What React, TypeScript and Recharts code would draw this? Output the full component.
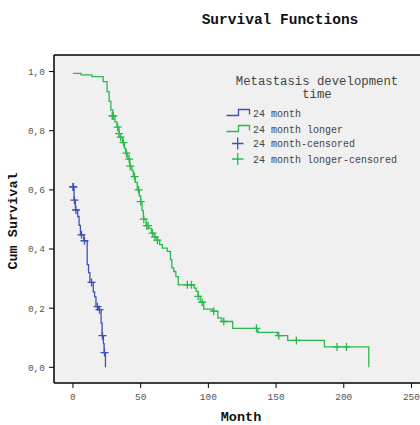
import React from "react";
import {
  ComposedChart,
  CartesianGrid,
  Customized,
  Line,
  ReferenceLine,
  Scatter,
  XAxis,
  YAxis
} from "recharts";

const legendTitle = ["Metastasis development", "time"];
const legendLabels = ["24 month", "24 month longer", "24 month-censored", "24 month longer-censored"];
const xTicks = [0, 50, 100, 150, 200, 250];
const yTicks = [0, 0.2, 0.4, 0.6, 0.8, 1.0];

// 24 month group: step points (time, cumulative survival)
const shortTimes = [0, 0.8, 1.8, 3.5, 4.5, 5.5, 8, 10.5, 11.5, 12.5, 15, 16, 17, 19, 20.8, 21.5, 22.5, 23, 24];
const shortSurvival = [0.61, 0.565, 0.532, 0.51, 0.48, 0.448, 0.428, 0.347, 0.32, 0.287, 0.255, 0.238, 0.205, 0.195, 0.15, 0.107, 0.08, 0.05, 0];
const shortCensorTimes = [0, 0.4, 1.1, 2.2, 6.3, 8.5, 13.7, 18.1, 19.6, 21.8, 23.3];
const shortCensorSurvival = [0.61, 0.61, 0.565, 0.532, 0.448, 0.428, 0.287, 0.205, 0.195, 0.107, 0.05];

// 24 month longer group
const longTimes = [
  0, 6, 14, 22.3, 25.2, 26.7, 28, 29.5, 31, 32.5, 34, 35, 36.5, 38, 39, 40.5, 42, 43.5, 44.5, 46, 47.5,
  49, 50, 51, 52, 54, 56, 58, 60, 62, 64, 66, 69.6, 72, 73, 74.4, 76, 77.8, 89.5, 91, 92.5, 94, 96.6,
  103, 107, 110, 118, 136.5, 151, 158.6, 185.7, 218.5
];
const longSurvival = [
  0.994, 0.989, 0.983, 0.966, 0.932, 0.899, 0.87, 0.85, 0.83, 0.812, 0.79, 0.778, 0.76, 0.74, 0.724,
  0.704, 0.68, 0.665, 0.645, 0.625, 0.6, 0.58, 0.56, 0.53, 0.501, 0.479, 0.47, 0.454, 0.44, 0.43, 0.415,
  0.403, 0.392, 0.364, 0.336, 0.324, 0.307, 0.279, 0.268, 0.257, 0.24, 0.22, 0.197, 0.19, 0.167, 0.155,
  0.132, 0.118, 0.107, 0.091, 0.069, 0
];
const longCensorTimes = [
  29, 29.8, 33, 34, 35.2, 37.3, 39.5, 41.5, 42.3, 45.5, 48.5, 50, 52.3, 54.5, 55.5, 58.7, 60.5, 62.4,
  84.5, 87.5, 92.5, 95.4, 104, 111.4, 135.5, 152, 165, 195, 202
];
const longCensorSurvival = [
  0.85, 0.85, 0.812, 0.79, 0.778, 0.76, 0.724, 0.704, 0.68, 0.645, 0.6, 0.56, 0.501, 0.479, 0.479, 0.454,
  0.44, 0.43, 0.279, 0.279, 0.24, 0.22, 0.19, 0.155, 0.132, 0.107, 0.091, 0.069, 0.069
];

const BLUE = "#3b52b0";
const GREEN = "#2cb84c";
const FONT = "'Liberation Mono', 'DejaVu Sans Mono', monospace";

const toRows = (times: number[], surv: number[]) => times.map((t, i) => ({ t, s: surv[i] }));

const shortRows = toRows(shortTimes, shortSurvival);
const longRows = toRows(longTimes, longSurvival);
const shortCensored = toRows(shortCensorTimes, shortCensorSurvival);
const longCensored = toRows(longCensorTimes, longCensorSurvival);

const X_DOMAIN: [number, number] = [-14, 256.3];
const Y_DOMAIN: [number, number] = [-0.053, 1.056];

function crossShape(color: string, half: number) {
  return (props: any) => {
    const { cx, cy } = props;
    return (
      <path
        d={`M${cx - half},${cy}H${cx + half}M${cx},${cy - half}V${cy + half}`}
        stroke={color}
        strokeWidth={1.3}
        fill="none"
      />
    );
  };
}

function Labels() {
  return (
    <g fontFamily={FONT}>
      <text x={280} y={24} textAnchor="middle" fontSize={14.5} fontWeight="bold" fill="#111">
        Survival Functions
      </text>
      <text x={241} y={421} textAnchor="middle" fontSize={13.5} fontWeight="bold" fill="#111">
        Month
      </text>
      <text
        transform="translate(17,221) rotate(-90)"
        textAnchor="middle"
        fontSize={13.5}
        fontWeight="bold"
        fill="#111"
      >
        Cum Survival
      </text>
      <text x={317} y={85} textAnchor="middle" fontSize={12.3} fill="#444">
        {legendTitle[0]}
      </text>
      <text x={317} y={98} textAnchor="middle" fontSize={12.3} fill="#444">
        {legendTitle[1]}
      </text>
      {legendLabels.map((label, i) => {
        const y = [113, 129, 143.5, 159][i];
        const color = i % 2 === 0 ? BLUE : GREEN;
        return (
          <g key={label}>
            {i < 2 ? (
              <path
                d={`M226.5,${y + 2.5}H238.5V${y - 3.5}H249.5V${y + 1.5}`}
                stroke={color}
                strokeWidth={1.3}
                fill="none"
              />
            ) : (
              <path
                d={`M232,${y}H243.5M237.7,${y - 6}V${y + 6}`}
                stroke={color}
                strokeWidth={1.3}
                fill="none"
              />
            )}
            <text x={253} y={y + 3.5} fontSize={10} fill="#444">
              {label}
            </text>
          </g>
        );
      })}
    </g>
  );
}

export default function App() {
  return (
    <div style={{ position: "absolute", left: 0, top: 0, width: 420, height: 425, background: "#fff" }}>
      <ComposedChart width={420} height={425} margin={{ top: 55, right: 0, bottom: 0, left: 0 }}>
        <CartesianGrid fill="#f0f0f0" horizontal={false} vertical={false} />
        <XAxis
          type="number"
          dataKey="t"
          domain={X_DOMAIN}
          ticks={xTicks}
          allowDataOverflow
          height={42}
          axisLine={{ stroke: "#000", strokeWidth: 1.5 }}
          tickLine={{ stroke: "#000" }}
          tickSize={5}
          tickMargin={5}
          tick={{ fontSize: 9.5, fill: "#555", fontFamily: FONT }}
        />
        <YAxis
          type="number"
          dataKey="s"
          domain={Y_DOMAIN}
          ticks={yTicks}
          allowDataOverflow
          width={54}
          axisLine={{ stroke: "#000", strokeWidth: 1.5 }}
          tickLine={{ stroke: "#000" }}
          tickSize={5}
          tickMargin={4}
          tickFormatter={(v: number) => v.toFixed(1).replace(".", ",")}
          tick={{ fontSize: 9.5, fill: "#555", fontFamily: FONT }}
        />
        <ReferenceLine y={Y_DOMAIN[1]} stroke="#000" strokeWidth={1.5} ifOverflow="visible" />
        <Line
          data={shortRows}
          dataKey="s"
          type="stepAfter"
          stroke={BLUE}
          strokeWidth={1.3}
          dot={false}
          isAnimationActive={false}
        />
        <Line
          data={longRows}
          dataKey="s"
          type="stepAfter"
          stroke={GREEN}
          strokeWidth={1.3}
          dot={false}
          isAnimationActive={false}
        />
        <Scatter data={shortCensored} dataKey="s" shape={crossShape(BLUE, 4)} isAnimationActive={false} />
        <Scatter data={longCensored} dataKey="s" shape={crossShape(GREEN, 4)} isAnimationActive={false} />
        <Customized component={Labels} />
      </ComposedChart>
    </div>
  );
}
